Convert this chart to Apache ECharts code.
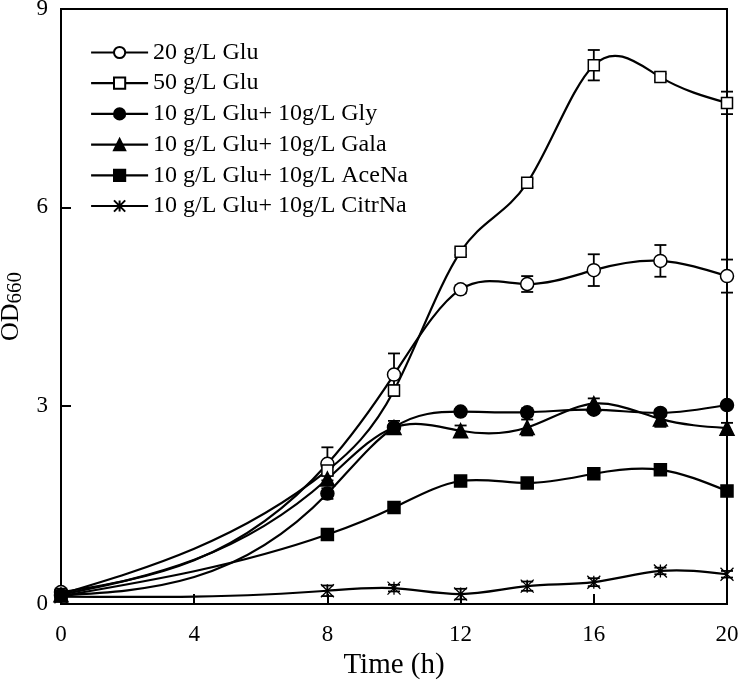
<!DOCTYPE html>
<html><head><meta charset="utf-8">
<script src="https://cdn.jsdelivr.net/npm/echarts@6/dist/echarts.min.js"></script>
<style>html,body{margin:0;padding:0;background:#fff}#c{width:740px;height:681px}</style>
</head><body><div id="c"></div>
<script>
const times = [0, 8, 10, 12, 14, 16, 18, 20];
const names = ['20 g/L Glu', '50 g/L Glu', '10 g/L Glu+ 10g/L Gly', '10 g/L Glu+ 10g/L Gala', '10 g/L Glu+ 10g/L AceNa', '10 g/L Glu+ 10g/L CitrNa'];
const glu20    = [0.18, 2.12, 3.47, 4.76, 4.84, 5.05, 5.19, 4.96];
const glu20Err = [0.05, 0.25, 0.32, 0.06, 0.12, 0.24, 0.24, 0.25];
const glu50    = [0.15, 2.02, 3.23, 5.33, 6.37, 8.15, 7.97, 7.58];
const glu50Err = [0.05, 0.08, 0.08, 0.05, 0.06, 0.23, 0.05, 0.17];
const gly      = [0.13, 1.67, 2.67, 2.91, 2.90, 2.94, 2.89, 3.01];
const glyErr   = [0.03, 0.08, 0.05, 0.04, 0.06, 0.05, 0.05, 0.04];
const gala     = [0.14, 1.89, 2.67, 2.62, 2.67, 3.03, 2.80, 2.66];
const galaErr  = [0.03, 0.08, 0.10, 0.08, 0.12, 0.08, 0.12, 0.08];
const acena    = [0.12, 1.05, 1.46, 1.86, 1.83, 1.97, 2.03, 1.71];
const acenaErr = [0.03, 0.05, 0.05, 0.05, 0.06, 0.05, 0.05, 0.04];
const citr     = [0.11, 0.20, 0.24, 0.15, 0.27, 0.33, 0.50, 0.45];
const citrErr  = [0.03, 0.08, 0.05, 0.08, 0.07, 0.06, 0.05, 0.05];
const xTicks = [0, 4, 8, 12, 16, 20];
const yTicks = [0, 3, 6, 9];

const values = [glu20, glu50, gly, gala, acena, citr];
const errs = [glu20Err, glu50Err, glyErr, galaErr, acenaErr, citrErr];
const symbols = ['circle', 'rect', 'circle', 'triangle', 'rect', 'path://M0,0L10,10M10,0L0,10M5,0L5,10'];
const fills = ['#fff', '#fff', '#000', '#000', '#000', '#000'];
const sizes = [13, 11, 13, 14, 12, 13];
const FONT = '"Liberation Serif", "Times New Roman", serif';

// natural cubic spline second derivatives
function splineM(xs, ys) {
  const n = xs.length;
  const M = new Array(n).fill(0);
  if (n < 3) return M;
  const a = [], b = [], c = [], d = [];
  for (let i = 1; i < n - 1; i++) {
    const h0 = xs[i] - xs[i - 1], h1 = xs[i + 1] - xs[i];
    a.push(h0); b.push(2 * (h0 + h1)); c.push(h1);
    d.push(6 * ((ys[i + 1] - ys[i]) / h1 - (ys[i] - ys[i - 1]) / h0));
  }
  const m = b.length;
  for (let i = 1; i < m; i++) {
    const w = a[i] / b[i - 1];
    b[i] -= w * c[i - 1];
    d[i] -= w * d[i - 1];
  }
  const sol = new Array(m);
  sol[m - 1] = d[m - 1] / b[m - 1];
  for (let i = m - 2; i >= 0; i--) sol[i] = (d[i] - c[i] * sol[i + 1]) / b[i];
  for (let i = 0; i < m; i++) M[i + 1] = sol[i];
  return M;
}

const chart = echarts.init(document.getElementById('c'));
const series = [];
values.forEach((vals, i) => {
  const M = splineM(times, vals);
  series.push({
    type: 'custom',
    name: names[i] + '_curve',
    silent: true,
    z: 1,
    data: times.map((t, k) => [t, vals[k]]),
    renderItem: function (params, api) {
      const k = params.dataIndex;
      if (k >= times.length - 1) return null;
      const x0 = times[k], x1 = times[k + 1], y0 = vals[k], y1 = vals[k + 1];
      const h = x1 - x0;
      const s = (y1 - y0) / h;
      const d0 = s - h * (2 * M[k] + M[k + 1]) / 6;
      const d1 = s + h * (M[k] + 2 * M[k + 1]) / 6;
      const p0 = api.coord([x0, y0]);
      const p1 = api.coord([x0 + h / 3, y0 + d0 * h / 3]);
      const p2 = api.coord([x1 - h / 3, y1 - d1 * h / 3]);
      const p3 = api.coord([x1, y1]);
      return {
        type: 'bezierCurve',
        shape: { x1: p0[0], y1: p0[1], cpx1: p1[0], cpy1: p1[1], cpx2: p2[0], cpy2: p2[1], x2: p3[0], y2: p3[1] },
        style: { stroke: '#000', lineWidth: 2.2, fill: null }
      };
    }
  });
  series.push({
    type: 'custom',
    name: names[i] + '_err',
    silent: true,
    z: 2,
    data: times.map((t, k) => [t, vals[k], errs[i][k]]),
    renderItem: function (params, api) {
      const x = api.value(0), y = api.value(1), e = api.value(2);
      const top = api.coord([x, y + e]);
      const bot = api.coord([x, y - e]);
      const hw = 6;
      const st = { stroke: '#000', lineWidth: 1.8 };
      return {
        type: 'group',
        children: [
          { type: 'line', shape: { x1: top[0], y1: top[1], x2: bot[0], y2: bot[1] }, style: st },
          { type: 'line', shape: { x1: top[0] - hw, y1: top[1], x2: top[0] + hw, y2: top[1] }, style: st },
          { type: 'line', shape: { x1: bot[0] - hw, y1: bot[1], x2: bot[0] + hw, y2: bot[1] }, style: st }
        ]
      };
    }
  });
  series.push({
    type: 'line',
    name: names[i],
    data: times.map((t, k) => [t, vals[k]]),
    z: 3,
    symbol: symbols[i],
    symbolSize: sizes[i],
    showAllSymbol: true,
    lineStyle: { color: '#000', width: 2.2, opacity: 0 },
    itemStyle: { color: fills[i], borderColor: '#000', borderWidth: i === 5 ? 1.3 : 1.5 },
    emphasis: { disabled: true }
  });
});

chart.setOption({
  animation: false,
  backgroundColor: '#fff',
  grid: { left: 61, right: 13, top: 9, bottom: 77, containLabel: false, outerBoundsMode: 'none',
    show: true, borderColor: '#000', borderWidth: 2, backgroundColor: 'transparent' },
  legend: {
    data: names,
    orient: 'vertical',
    left: 85,
    top: 35.5,
    itemWidth: 57,
    itemHeight: 14,
    itemGap: 6.7,
    lineStyle: { color: '#000', width: 2.2, opacity: 1 },
    textStyle: { fontFamily: FONT, fontSize: 24, color: '#000', lineHeight: 24 },
    selectedMode: false
  },
  xAxis: {
    type: 'value',
    min: 0, max: 20, interval: 4,
    name: 'Time (h)',
    nameLocation: 'middle',
    nameGap: 45,
    nameTextStyle: { fontFamily: FONT, fontSize: 29, color: '#000' },
    axisLine: { show: true, onZero: false, lineStyle: { color: '#000', width: 2 } },
    axisTick: { show: true, inside: true, length: 10, lineStyle: { color: '#000', width: 2 } },
    axisLabel: { fontFamily: FONT, fontSize: 23, color: '#000', margin: 19,
      formatter: v => xTicks.includes(v) ? String(v) : '' },
    splitLine: { show: false }
  },
  yAxis: {
    type: 'value',
    min: 0, max: 9, interval: 3,
    name: '{a|OD}{b|660}',
    nameLocation: 'middle',
    nameRotate: 90,
    nameGap: 25,
    nameTextStyle: {
      rich: {
        a: { fontFamily: FONT, fontSize: 26, color: '#000', lineHeight: 28 },
        b: { fontFamily: FONT, fontSize: 21, color: '#000', lineHeight: 28, padding: [7, 0, 0, 0] }
      }
    },
    axisLine: { show: true, onZero: false, lineStyle: { color: '#000', width: 2 } },
    axisTick: { show: true, inside: true, length: 10, lineStyle: { color: '#000', width: 2 } },
    axisLabel: { fontFamily: FONT, fontSize: 23, color: '#000', margin: 13,
      formatter: v => yTicks.includes(v) ? String(v) : '' },
    splitLine: { show: false }
  },
  series: series
});
</script>
</body></html>
